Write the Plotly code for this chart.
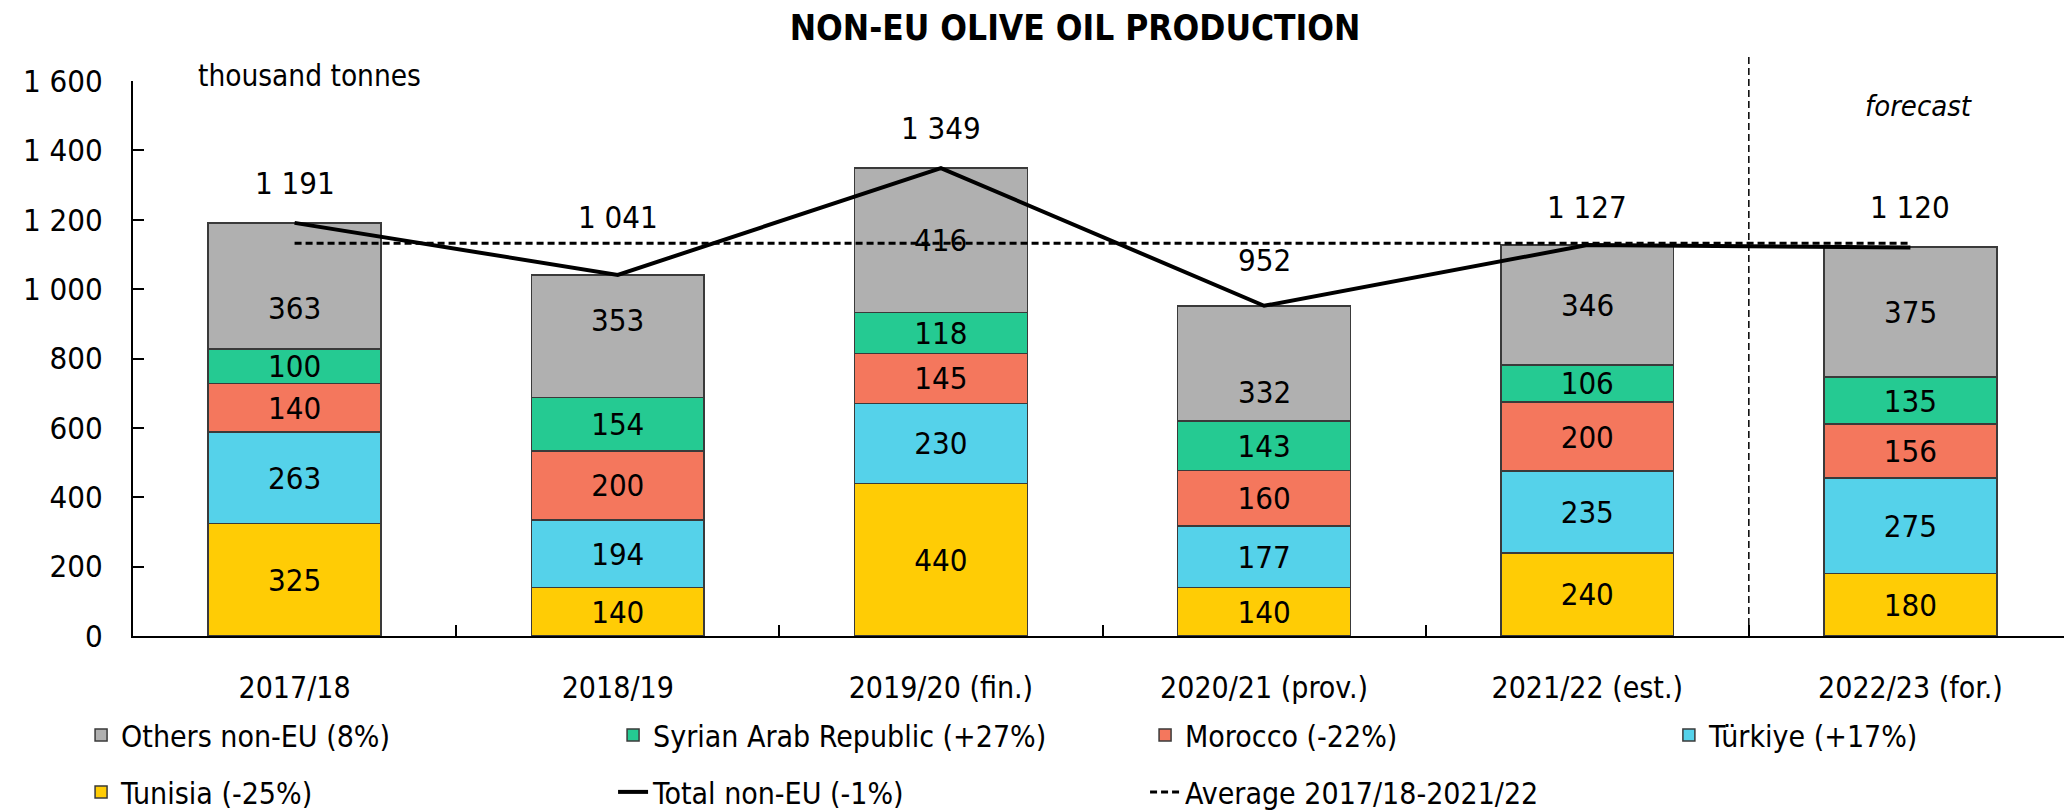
import plotly.graph_objects as go

categories = ["2017/18", "2018/19", "2019/20 (fin.)", "2020/21 (prov.)", "2021/22 (est.)", "2022/23 (for.)"]
tunisia = [325, 140, 440, 140, 240, 180]
turkiye = [263, 194, 230, 177, 235, 275]
morocco = [140, 200, 145, 160, 200, 156]
syria = [100, 154, 118, 143, 106, 135]
others = [363, 353, 416, 332, 346, 375]
total = [1191, 1041, 1349, 952, 1127, 1120]
average = [1132, 1132, 1132, 1132, 1132, 1132]

FONT = "Liberation Sans Narrow, DejaVu Sans Condensed, Arial Narrow, sans-serif"
OUTLINE = dict(color="#3a3a3a", width=1.5)

series = [
    ("Tunisia (-25%)", tunisia, "#FFCC05", "legend2", 1, True),
    ("Türkiye (+17%)", turkiye, "#55D2EA", "legend3", 1, True),
    ("Morocco (-22%)", morocco, "#F4775D", "legend", 3, True),
    ("Syrian Arab Republic (+27%)", syria, "#25CA92", "legend", 2, True),
    ("Others non-EU (8%)", others, "#B0B0B0", "legend", 1, False),
]

fig = go.Figure()
for name, vals, color, leg, rank, inside_text in series:
    fig.add_trace(go.Bar(
        x=categories, y=vals, name=name, marker=dict(color=color, line=OUTLINE),
        text=vals if inside_text else None, texttemplate="%{text}" if inside_text else None,
        textposition="inside" if inside_text else "none", insidetextanchor="middle",
        constraintext="none", textfont=dict(family=FONT, size=31, color="black"),
        width=0.535, legend=leg, legendrank=rank,
    ))

# labels of the "Others" segments (placed by hand in the original, slightly off-centre)
others_shift = [-22, 16, 0, -29, 0, 0]
for i, c in enumerate(categories):
    base = tunisia[i] + turkiye[i] + morocco[i] + syria[i]
    fig.add_annotation(x=c, y=base + others[i] / 2, yshift=others_shift[i], text=str(others[i]),
                       showarrow=False, font=dict(family=FONT, size=31, color="black"))

fig.add_trace(go.Scatter(
    x=categories, y=total, name="Total non-EU (-1%)", mode="lines",
    line=dict(color="black", width=4), legend="legend2", legendrank=2,
))
fig.add_trace(go.Scatter(
    x=categories, y=average, name="Average 2017/18-2021/22", mode="lines",
    line=dict(color="black", width=3, dash="7px,4px"), legend="legend2", legendrank=3,
))

label_shift = [40, 58, 40, 46, 38, 41]
for c, t, s in zip(categories, total, label_shift):
    fig.add_annotation(x=c, y=t, yshift=s, text=f"{t:,}".replace(",", " "), showarrow=False,
                       font=dict(family=FONT, size=31, color="black"))

fig.add_annotation(x=categories[5], y=1, yref="paper", yshift=-6, xshift=9, text="<i>forecast</i>",
                   showarrow=False, font=dict(family=FONT, size=29, color="black"))
fig.add_annotation(x=0, xref="paper", xshift=63, xanchor="left", y=1, yref="paper", yshift=24,
                   text="thousand tonnes", showarrow=False,
                   font=dict(family=FONT, size=29.5, color="black"))

fig.add_shape(type="line", xref="x", yref="paper", x0=4.5, x1=4.5, y0=0, y1=1.05,
              line=dict(color="black", width=1.5, dash="7px,4px"))

LEG = dict(orientation="h", xref="container", yref="container", xanchor="left", yanchor="top",
           entrywidth=487, entrywidthmode="pixels", font=dict(size=30),
           traceorder="normal", bgcolor="rgba(0,0,0,0)")

# page body has an 8px default margin, so the figure is 8px smaller than the window
fig.update_layout(
    width=2064, height=802,
    margin=dict(l=125, r=0, t=73, b=174, autoexpand=False),
    barmode="stack", bargap=0.465,
    separators=". ",
    plot_bgcolor="white", paper_bgcolor="white",
    font=dict(family=FONT, size=30, color="black"),
    title=dict(text="<b>NON-EU OLIVE OIL PRODUCTION</b>", x=0.517, xanchor="center",
               y=0.976, yanchor="middle", font=dict(family=FONT, size=35, color="black")),
    xaxis=dict(range=[-0.5, 5.5], showline=True, linecolor="black", linewidth=2,
               ticks="inside", tickson="boundaries", ticklen=11, tickcolor="black",
               tickwidth=1.5, ticklabelstandoff=24, tickfont=dict(size=30), automargin=False),
    yaxis=dict(range=[0, 1600], dtick=200, tickformat=",d", showgrid=False, zeroline=False,
               showline=True, linecolor="black", linewidth=2, ticks="inside", ticklen=11,
               tickcolor="black", tickwidth=1.5, ticklabelstandoff=22, tickfont=dict(size=31),
               automargin=False),
    legend=dict(LEG, x=0.0354, y=0.126),
    legend2=dict(LEG, x=0.0354, y=0.055),
    legend3=dict(LEG, x=0.8047, y=0.126),
    showlegend=True,
)

fig.write_html("out.html")
